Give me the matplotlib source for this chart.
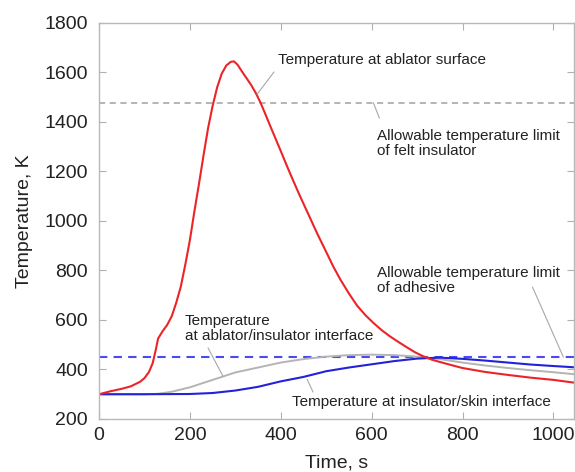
import matplotlib
matplotlib.use("Agg")
import matplotlib.pyplot as plt

plt.rcParams['font.family'] = ['Liberation Sans', 'DejaVu Sans']

# ablator surface temperature (K) vs time (s)
t_surface = [0, 25, 50, 70, 90, 100, 110, 118, 125, 130, 140, 150, 160, 170, 180,
             190, 200, 210, 220, 230, 240, 250, 260, 270, 280, 290, 297, 305, 315,
             325, 335, 345, 355, 366, 377, 388, 399, 410, 421, 440, 460, 480, 500,
             515, 531, 550, 568, 586, 604, 622, 641, 660, 678, 696, 714, 732, 751,
             775, 800, 850, 900, 950, 1000, 1045]
T_surface = [300, 312, 322, 332, 350, 365, 390, 425, 480, 525, 555, 580, 615, 670, 735,
             825, 923, 1040, 1150, 1265, 1375, 1465, 1540, 1595, 1628, 1643, 1645, 1631, 1603,
             1576, 1549, 1517, 1480, 1432, 1383, 1335, 1287, 1238, 1190, 1110, 1030, 950, 875,
             818, 764, 707, 658, 620, 588, 559, 533, 510, 489, 469, 453, 440, 430,
             418, 406, 390, 378, 367, 358, 347]

# ablator/insulator interface
t_bond = [0, 50, 100, 130, 160, 200, 250, 300, 350, 400, 450, 500, 550, 600, 650,
          700, 750, 800, 850, 900, 950, 1000, 1045]
T_bond = [300, 300, 300, 302, 310, 328, 358, 388, 408, 428, 442, 452, 458, 460, 458,
          452, 442, 428, 416, 406, 397, 389, 381]

# insulator/skin interface
t_skin = [0, 100, 200, 250, 300, 350, 400, 450, 500, 550, 600, 650, 700, 750, 800,
          850, 900, 950, 1000, 1045]
T_skin = [300, 300, 301, 305, 315, 330, 352, 370, 393, 408, 421, 434, 444, 448, 443,
          436, 428, 420, 414, 409]

felt_limit = 1477      # 2200 F
adhesive_limit = 450   # 350 F

fig = plt.figure(figsize=(5.75, 4.72), dpi=100)
ax = fig.add_axes([0.1722, 0.1123, 0.8258, 0.839])

ax.axhline(felt_limit, color='#a0a0a0', lw=1.1, dashes=(4, 3))
ax.axhline(adhesive_limit, color='#4a4af0', lw=1.5, dashes=(4, 3))
ax.plot(t_bond, T_bond, color='#b4b4b4', lw=1.4)
ax.plot(t_skin, T_skin, color='#2222d8', lw=1.5)
ax.plot(t_surface, T_surface, color='#ec2428', lw=1.5)

ax.set_xlim(0, 1045)
ax.set_ylim(200, 1800)
ax.set_xticks([0, 200, 400, 600, 800, 1000])
ax.set_yticks(range(200, 1801, 200))
ax.tick_params(direction='in', top=True, right=True, length=5, width=0.8,
               color='#b0b0b0', labelsize=14, labelcolor='#222222')
ax.tick_params(axis='y', pad=8)
ax.tick_params(axis='x', pad=6)
for s in ax.spines.values():
    s.set_color('#b8b8b8')
    s.set_linewidth(1.0)

ax.set_xlabel('Time, s', fontsize=14, color='#222222', labelpad=7.5)
ax.set_ylabel('Temperature, K', fontsize=14, color='#222222', labelpad=8)

lead = dict(arrowstyle='-', color='#a8a8a8', lw=0.8, shrinkA=0, shrinkB=0)
txt = dict(fontsize=11, color='#222222', ha='left', va='center', linespacing=1.15)

ax.annotate('', xy=(348, 1512), xytext=(385, 1602), arrowprops=lead)
ax.text(394, 1650, 'Temperature at ablator surface', **txt)

ax.annotate('', xy=(617, 1416), xytext=(604, 1477), arrowprops=lead)
ax.text(612, 1313, 'Allowable temperature limit\nof felt insulator', **txt)

ax.annotate('', xy=(1022, 450), xytext=(954, 733), arrowprops=lead)
ax.text(612, 760, 'Allowable temperature limit\nof adhesive', **txt)

ax.annotate('', xy=(273, 372), xytext=(240, 487), arrowprops=lead)
ax.text(189, 566, 'Temperature\nat ablator/insulator interface', **txt)

ax.annotate('', xy=(471, 309), xytext=(458, 360), arrowprops=lead)
ax.text(425, 269, 'Temperature at insulator/skin interface', **txt)

fig.savefig('out.png', dpi=100)
